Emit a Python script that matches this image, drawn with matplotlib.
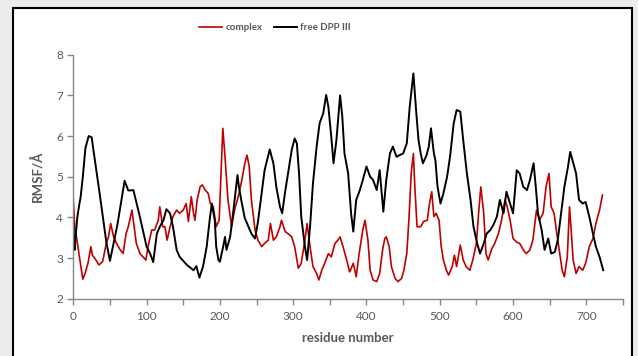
import matplotlib.pyplot as plt
from matplotlib.patches import Rectangle

# residue positions and RMSF values
free_res = [0, 1, 2, 4, 5.5, 8, 10, 13, 16.5, 21, 25, 37, 45, 50, 60, 70, 75, 82, 91,
            100, 105, 109, 114, 118, 123, 127, 132, 136, 141, 145, 155, 164, 168, 172,
            177, 182, 186, 189, 193, 195, 198, 200, 204.5, 207, 209, 214, 218, 224, 226,
            230, 234, 239, 243, 248, 252, 257, 261, 268, 273, 277, 282, 285, 289, 293,
            298, 302, 305, 308, 311, 316, 319, 323, 327, 332, 336, 341, 345, 348, 352,
            355, 359, 364, 367, 370, 375, 379, 382, 386, 391, 395, 400, 405, 409, 414,
            418, 423, 427, 432, 436, 441, 445, 450, 455, 459, 464, 468, 471, 474, 477,
            482, 485, 488, 492, 494, 497, 501, 505, 510, 514, 519, 523, 528, 532, 537,
            542, 546, 551, 555, 560, 564, 569, 573, 578, 582, 587, 591, 596, 600, 605,
            609, 614, 619, 623, 628, 631, 634, 639, 643, 648, 652, 657, 661, 666, 670,
            675, 678, 681, 686, 690, 695, 699, 704, 709, 713, 718, 723]
free_rmsf = [3.9, 3.5, 3.2, 3.7, 4.0, 4.3, 4.5, 5.0, 5.7, 6.0, 5.97, 4.45, 3.4, 2.93, 3.8,
             4.9, 4.66, 4.67, 4.0, 3.28, 3.1, 2.9, 3.6, 3.77, 3.93, 4.2, 4.1, 3.77, 3.2,
             3.03, 2.83, 2.7, 2.8, 2.52, 2.79, 3.28, 3.93, 4.34, 3.93, 3.28, 2.95, 2.91,
             3.28, 3.52, 3.2, 3.52, 4.1, 5.04, 4.75, 4.34, 3.98, 3.77, 3.6, 3.48, 3.9,
             4.59, 5.16, 5.67, 5.33, 4.75, 4.26, 4.1, 4.63, 5.08, 5.66, 5.94, 5.82, 5.08,
             4.02, 3.28, 2.95, 3.77, 4.84, 5.74, 6.31, 6.56, 7.01, 6.72, 5.98, 5.33, 5.9,
             7.0, 6.48, 5.57, 5.08, 4.1, 3.65, 4.43, 4.67, 4.92, 5.25, 5.0, 4.92, 4.67,
             5.16, 4.14, 4.92, 5.57, 5.74, 5.49, 5.53, 5.57, 5.82, 6.72, 7.54, 6.56, 5.9,
             5.57, 5.33, 5.53, 5.74, 6.19, 5.57, 5.41, 4.75, 4.34, 4.59, 5.0, 5.49, 6.31,
             6.64, 6.6, 5.9, 5.08, 4.43, 3.77, 3.36, 3.11, 3.36, 3.6, 3.69, 3.81, 4.02,
             4.43, 4.1, 4.63, 4.34, 4.1, 5.16, 5.08, 4.75, 4.67, 4.92, 5.33, 4.75, 4.1,
             3.69, 3.2, 3.48, 3.11, 3.15, 3.44, 4.18, 4.75, 5.25, 5.61, 5.41, 5.08, 4.43,
             4.34, 4.38, 4.02, 3.6, 3.28, 3.03, 2.7]

complex_res = [0, 2, 5, 9, 13, 16, 20, 24, 26, 31, 35, 40, 45, 48, 51, 55, 59, 64, 68, 72,
               75, 80, 83, 86, 91, 95, 99, 102, 107, 111, 116, 118, 122, 125, 128, 132,
               136, 141, 145, 150, 154, 157, 161, 164, 166, 169, 173, 176, 180, 184, 187,
               191, 195, 199, 204, 207, 211, 216, 220, 225, 230, 234, 237, 240, 243, 248,
               252, 257, 261, 266, 269, 273, 277, 282, 284, 289, 293, 298, 302, 307, 311,
               316, 319, 323, 327, 332, 335, 339, 343, 348, 352, 357, 361, 364, 368, 373,
               377, 382, 386, 390, 395, 398, 402, 405, 409, 414, 418, 422, 425, 427, 431,
               434, 439, 443, 448, 451, 455, 458, 461, 464, 466, 469, 474, 478, 483, 486,
               489, 492, 495, 499, 502, 505, 509, 512, 517, 520, 523, 528, 532, 536, 541,
               545, 550, 553, 556, 560, 563, 566, 571, 575, 580, 584, 589, 592, 596, 600,
               605, 609, 614, 618, 623, 627, 632, 636, 641, 645, 649, 652, 656, 659, 663,
               667, 670, 674, 677, 679, 682, 686, 690, 695, 699, 704, 709, 713, 718, 722]
complex_rmsf = [4.43, 3.77, 3.44, 2.95, 2.48, 2.62, 2.87, 3.28, 3.07, 2.95, 2.83, 2.91,
                3.36, 3.52, 3.85, 3.52, 3.36, 3.2, 3.11, 3.6, 3.77, 4.18, 3.77, 3.36, 3.11,
                3.03, 2.95, 3.28, 3.69, 3.69, 3.93, 4.26, 3.77, 3.77, 3.44, 3.77, 4.02,
                4.18, 4.1, 4.18, 4.34, 3.9, 4.51, 4.1, 3.93, 4.43, 4.75, 4.8, 4.67, 4.59,
                4.34, 4.26, 3.77, 3.93, 6.19, 5.49, 4.43, 3.77, 4.18, 4.51, 4.92, 5.33,
                5.53, 5.25, 4.43, 3.69, 3.44, 3.28, 3.36, 3.44, 3.85, 3.44, 3.52, 3.77,
                3.93, 3.65, 3.6, 3.52, 3.28, 2.75, 2.87, 3.44, 3.85, 3.28, 2.79, 2.62,
                2.46, 2.7, 2.87, 3.11, 3.03, 3.36, 3.44, 3.52, 3.28, 2.95, 2.66, 2.87,
                2.54, 3.11, 3.69, 3.93, 3.44, 2.7, 2.46, 2.42, 2.62, 3.2, 3.48, 3.52,
                3.28, 2.79, 2.5, 2.42, 2.5, 2.7, 3.11, 3.98, 5.08, 5.57, 4.75, 3.77, 3.77,
                3.9, 3.93, 4.34, 4.63, 4.02, 4.1, 3.93, 3.28, 2.95, 2.7, 2.58, 2.79, 3.07,
                2.79, 3.32, 2.95, 2.79, 2.7, 2.95, 3.36, 4.1, 4.75, 4.1, 3.11, 2.95, 3.23,
                3.36, 3.6, 3.9, 4.43, 4.26, 3.93, 3.48, 3.39, 3.36, 3.2, 3.11, 3.2, 3.44,
                4.18, 3.93, 4.1, 4.75, 5.08, 4.26, 4.1, 3.69, 3.2, 2.7, 2.54, 3.03, 4.26,
                3.77, 2.95, 2.62, 2.79, 2.7, 2.87, 3.28, 3.48, 3.85, 4.18, 4.55]

W, H = 638, 356
fig = plt.figure(figsize=(W / 100, H / 100), dpi=100, facecolor='#ececec')
plt.rcParams['font.family'] = ['Lato', 'DejaVu Sans']

# white chart area with black frame, kept behind the axes
fig.patches.append(Rectangle((13 / W, -0.05), (632 - 13) / W, 1.05 - 8 / H,
                             transform=fig.transFigure, facecolor='white',
                             edgecolor='black', linewidth=1.5, zorder=-10))

ax = fig.add_axes([73.3 / W, 1 - 298.7 / H, (623 - 73.3) / W, (298.7 - 54.7) / H])
ax.set_facecolor('none')
ax.set_zorder(5)

ax.plot(complex_res, complex_rmsf, color='#c00000', lw=1.2, label='complex')
ax.plot(free_res, free_rmsf, color='black', lw=1.4, label='free DPP III')

ax.set_xlim(0, 750)
ax.set_ylim(2, 8)
ax.set_xticks(range(0, 751, 50))
ax.set_xticklabels([str(v) if v % 100 == 0 and v < 750 else '' for v in range(0, 751, 50)])
ax.set_yticks(range(2, 9))

grey = '#868686'
for s in ['top', 'right']:
    ax.spines[s].set_visible(False)
for s in ['left', 'bottom']:
    ax.spines[s].set_color(grey)
    ax.spines[s].set_linewidth(1)
ax.tick_params(direction='out', length=4, width=1, color=grey,
               labelcolor='#595959', labelsize=8.5)
ax.tick_params(axis='x', pad=5)

ax.set_xlabel('residue number', fontsize=9.5, fontweight='bold', color='#595959', labelpad=7)
ax.set_ylabel('RMSF/Å', fontsize=9.5, fontweight='bold', color='#595959', labelpad=9)

fig.legend(loc='center', bbox_to_anchor=(275 / W, 1 - 28 / H), ncol=2, frameon=False,
           prop={'weight': 'bold', 'size': 7}, handlelength=2.4,
           columnspacing=1.2, handletextpad=0.3, labelcolor='#595959')

fig.savefig('out.png', dpi=100, facecolor=fig.get_facecolor())
